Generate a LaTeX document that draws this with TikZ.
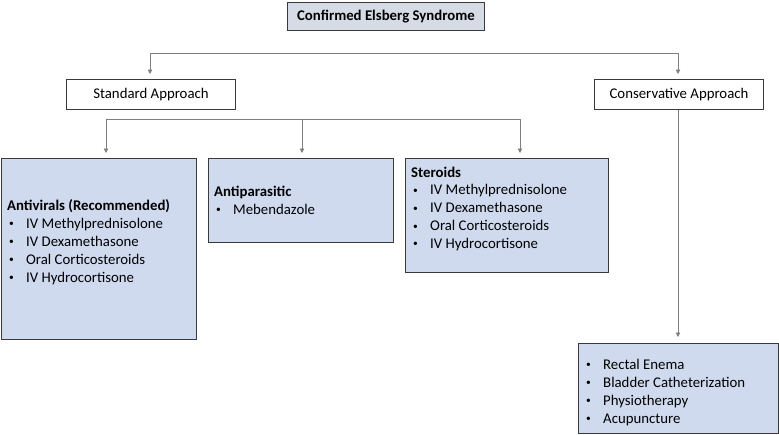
\documentclass[tikz,border=0pt]{standalone}
\usepackage{fontspec}
\setmainfont{Carlito}
\usetikzlibrary{arrows.meta, positioning}
\definecolor{titlegray}{HTML}{D6DCE5}
\definecolor{boxblue}{HTML}{CFDAEF}
\definecolor{linegray}{HTML}{7F7F7F}
\definecolor{edgegray}{HTML}{3A3A3A}
\tikzset{>={Triangle[width=4.5pt,length=4.5pt]},
every node/.style={font=\fontsize{14.8}{17.9}\selectfont},
plain box/.style={draw=edgegray, line width=1pt, fill=white, inner sep=0pt, anchor=north west},
title box/.style={plain box, fill=titlegray, font=\fontsize{14.8}{17.9}\selectfont\bfseries},
drug box/.style={draw=edgegray, line width=1pt, fill=boxblue, inner sep=0pt, anchor=north west},
list text/.style={align=left, inner sep=0pt, anchor=north west},
link/.style={draw=linegray, line width=0.8pt, ->, shorten >=5pt},
bar/.style={draw=linegray, line width=0.8pt},
}
\newcommand{\itm}[1]{\makebox[19pt][l]{\hspace{2pt}\raisebox{1.7pt}{\fontsize{9.5}{9.5}\selectfont\textbullet}}#1}

\begin{document}
\begin{tikzpicture}[x=1pt, y=-1pt]
\useasboundingbox (0,0) rectangle (779,434);
% headings
    \node[title box, minimum width=197pt, minimum height=28pt] (elsberg) at (287,2) {Confirmed Elsberg Syndrome};
    \node[plain box, minimum width=169pt, minimum height=30pt] (std) at (66,79) {Standard Approach};
    \node[plain box, minimum width=169pt, minimum height=30pt] (cons) at (594,79) {Conservative Approach};
% treatment boxes
    \node[drug box, minimum width=195pt, minimum height=181pt] (antiv) at (1,158) {};
    \node[drug box, minimum width=185pt, minimum height=84pt] (antip) at (208,158) {};
    \node[drug box, minimum width=203pt, minimum height=114pt] (ster) at (405,158) {};
    \node[drug box, minimum width=200pt, minimum height=90pt] (rest) at (578,343) {};
% box contents
    \node[list text] (antiv-text) at ([shift={(6,41.5)}]antiv.north west)
      {\textbf{Antivirals (Recommended)}\\ \itm{IV Methylprednisolone}\\ \itm{IV Dexamethasone}\\ \itm{Oral Corticosteroids}\\ \itm{IV Hydrocortisone}};
    \node[list text] (antip-text) at ([shift={(6,28)}]antip.north west)
      {\textbf{Antiparasitic}\\ \itm{Mebendazole}};
    \node[list text] (ster-text) at ([shift={(6,8.5)}]ster.north west)
      {\textbf{Steroids}\\ \itm{IV Methylprednisolone}\\ \itm{IV Dexamethasone}\\ \itm{Oral Corticosteroids}\\ \itm{IV Hydrocortisone}};
    \node[list text] (rest-text) at ([shift={(6,16)}]rest.north west)
      {\itm{Rectal Enema}\\ \itm{Bladder Catheterization}\\ \itm{Physiotherapy}\\ \itm{Acupuncture}};
% first split
    \coordinate (s1) at (150,53);
    \coordinate (s2) at (678,53);
    \draw[bar] (s1) -- (s2);
    \draw[link] (s1) -- (s1 |- std.north);
    \draw[link] (s2) -- (s2 |- cons.north);
% second split
    \coordinate (t1) at (106,119);
    \coordinate (t2) at (302,119);
    \coordinate (t3) at (520,119);
    \draw[bar] (t1) -- (t3);
    \draw[link] (t1) -- (t1 |- antiv.north);
    \draw[link] (t2) -- (t2 |- antip.north);
    \draw[link] (t3) -- (t3 |- ster.north);
% conservative branch
    \draw[link, shorten >=6pt] (cons.south -| s2) -- (s2 |- rest.north);
\end{tikzpicture}
\end{document}
